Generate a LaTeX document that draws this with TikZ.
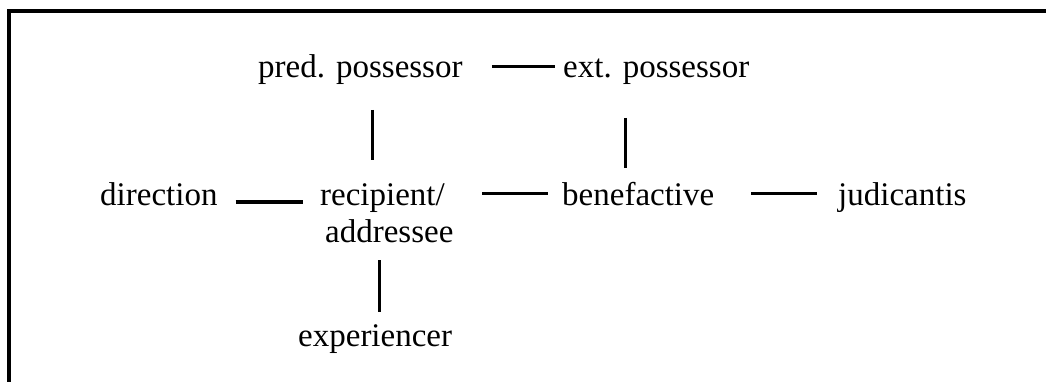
\documentclass[tikz,border=0pt]{standalone}
\usepackage{fontspec}
\setmainfont{Liberation Serif}
\usetikzlibrary{calc}
\begin{document}
\begin{tikzpicture}[x=1pt,y=-1pt,
  term/.style={anchor=base west,inner sep=0pt,font=\fontsize{33}{36}\selectfont},
  link/.style={line width=3pt,line cap=butt},
  frame/.style={line width=4pt,line join=miter}]
\useasboundingbox (0,0) rectangle (1046,382);

% open frame: left and top edges only
\draw[frame] (8.7,382) -- (8.7,11.3) -- (1046,11.3);

% terms
\node[term] (pp)   at (258,78)  {pred. possessor};
\node[term] (ep)   at (563,78)  {ext. possessor};
\node[term] (dir)  at (100,205) {direction};
\node[term] (rec)  at (320,205) {recipient/};
\node[term] (addr) at (325,242) {addressee};
\node[term] (ben)  at (562,205) {benefactive};
\node[term] (jud)  at (838,205) {judicantis};
\node[term] (exp)  at (298,346) {experiencer};

% connectors
\draw[link] ($(pp.base east)+(29,-11)$) -- ($(ep.base west)+(-8,-11)$);
\draw[link] ($(pp.base west)+(114,32)$) -- ($(rec.base west)+(52,-45)$);
\draw[link] ($(ep.base west)+(62,40)$) -- ($(ben.base west)+(63,-37)$);
\draw[link] ($(dir.base east)+(18,-3)$) -- ($(rec.base west)+(-17,-3)$);
\draw[link] ($(rec.base east)+(37,-11)$) -- ($(ben.base west)+(-14,-11)$);
\draw[link] ($(ben.base east)+(37,-11)$) -- ($(jud.base west)+(-21,-11)$);
\draw[link] ($(addr.base west)+(54,18)$) -- ($(exp.base west)+(81,-34)$);
\end{tikzpicture}
\end{document}
